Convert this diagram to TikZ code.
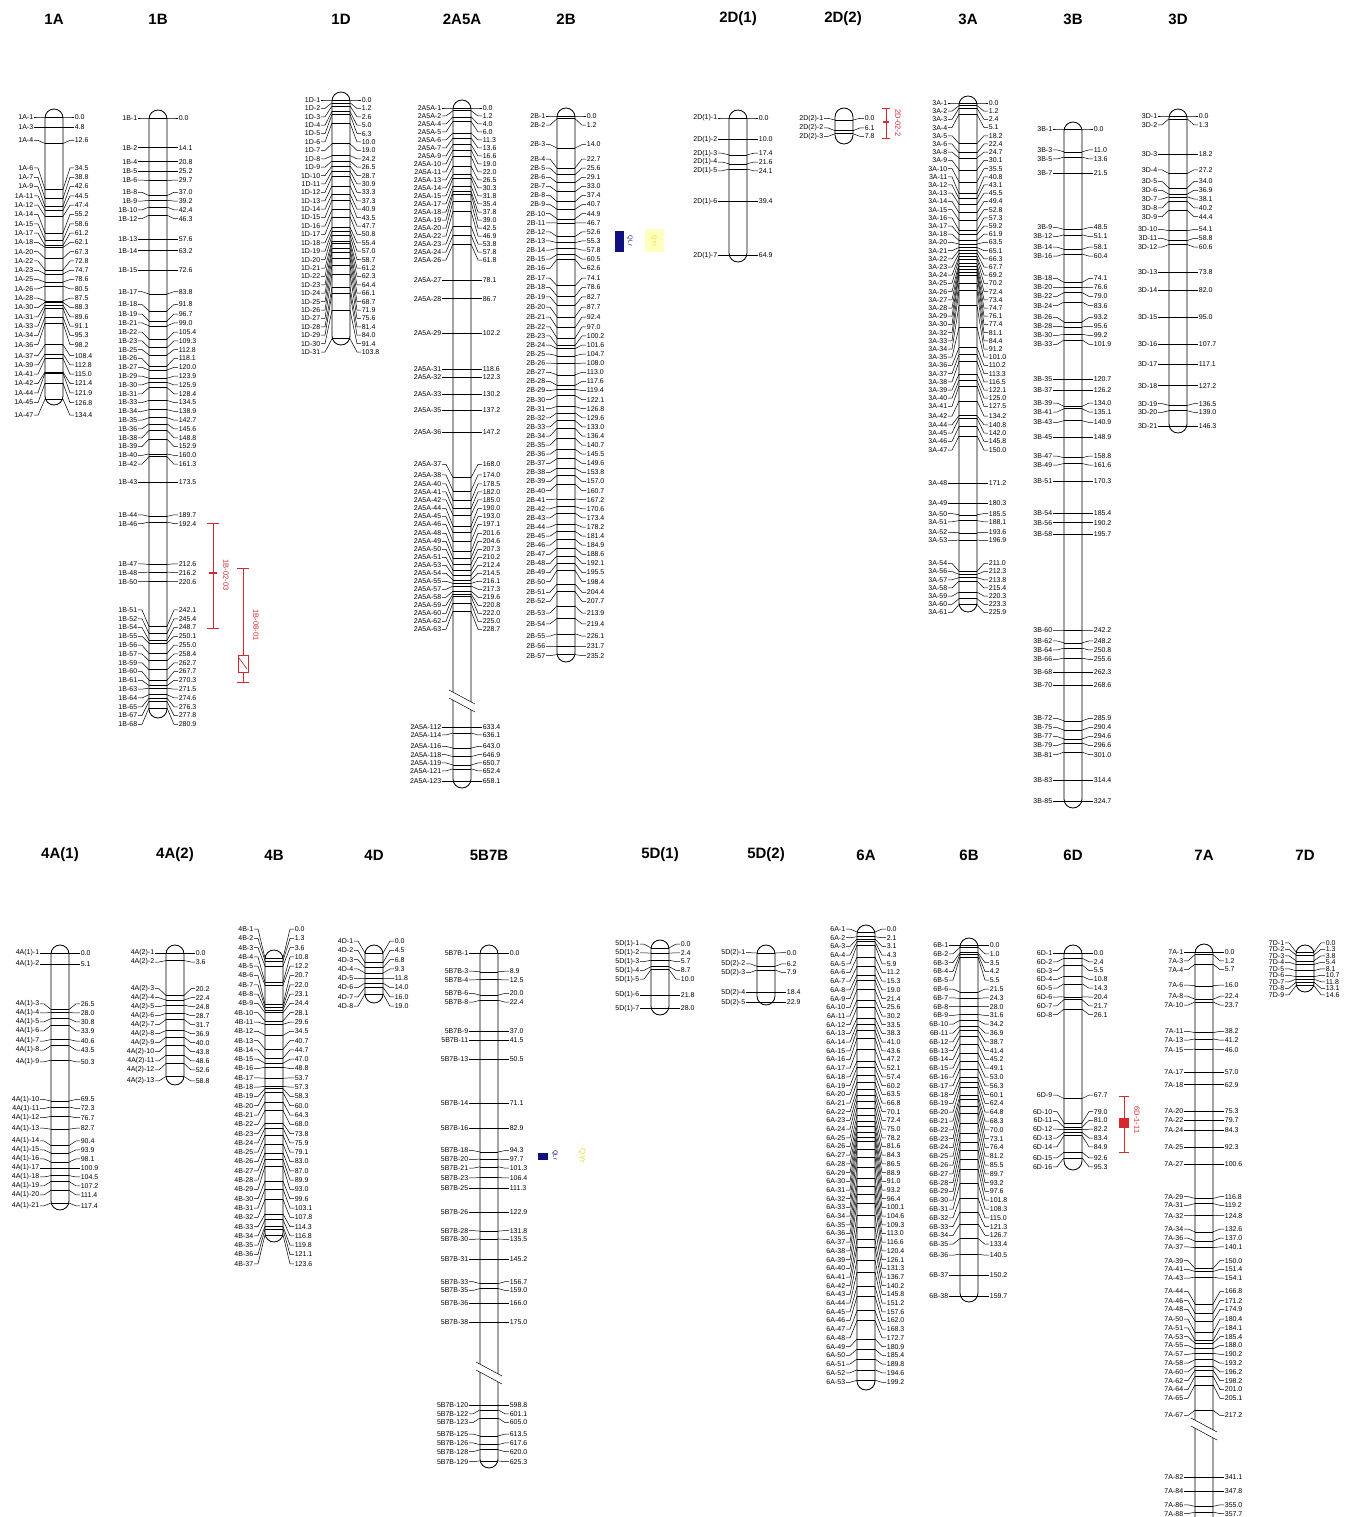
\documentclass[tikz,border=0pt]{standalone}
\usepackage{fontspec}
\setmainfont{Liberation Sans}
\usepackage{tikz}
\definecolor{qtlred}{RGB}{214,40,48}
\definecolor{qtlnavy}{RGB}{16,16,128}
\definecolor{qtlyel}{RGB}{230,220,60}
\definecolor{paleyel}{RGB}{255,255,190}
\tikzset{
  chr/.style={draw, line width=0.85pt, rounded corners=9pt},
  mk/.style={line width=0.5pt},
  lbl/.style={font=\fontsize{7}{8}\selectfont, inner sep=0.6pt},
  ttl/.style={font=\fontsize{15}{17}\selectfont\bfseries},
  qtl/.style={draw=qtlred, line width=0.7pt},
  qtltxt/.style={font=\fontsize{7.5}{8}\selectfont, text=qtlred, rotate=-90},
  genetxt/.style={font=\fontsize{6}{7}\selectfont, rotate=-90, inner sep=0.5pt},
}
\newcommand{\lgap}{8.8}
\newcommand{\ltop}{0}
% #1 prefix, #2 id, #3 x, #4 y of 0 cM, #5 px per cM, #6 first no., #7 last no., #8 cM list
\newcommand{\markers}[8]{%
  \foreach \v [count=\i] in {#8} {
    \pgfmathsetmacro\mkP{#4+#5*\v}
    \expandafter\xdef\csname mkp\i\endcsname{\mkP}
    \expandafter\xdef\csname mkv\i\endcsname{\v}
    \xdef\mkN{\i}
  }
  \foreach \i [remember=\mkF as \mkFp (initially -9000)] in {1,...,\mkN} {
    \pgfmathsetmacro\mkF{max(\csname mkp\i\endcsname,\mkFp+\lgap)}
    \expandafter\xdef\csname mkf\i\endcsname{\mkF}
  }
  \foreach \i [remember=\mkU as \mkUp (initially 9000)] in {\mkN,...,1} {
    \pgfmathsetmacro\mkU{min(\csname mkp\i\endcsname,\mkUp-\lgap)}
    \expandafter\xdef\csname mku\i\endcsname{\mkU}
  }
  \pgfmathsetmacro\mkLo{\csname mkp1\endcsname-\ltop}
  \foreach \i [remember=\mkG as \mkGp (initially -9000)] in {1,...,\mkN} {
    \pgfmathsetmacro\py{\csname mkp\i\endcsname}
    \pgfmathsetmacro\mkG{max((\csname mkf\i\endcsname+\csname mku\i\endcsname)/2,\mkGp+\lgap,\mkLo)}
    \pgfmathtruncatemacro\lab{#6+round((\i-1)*(#7-#6)/max(\mkN-1,1))}
    \draw[mk] (#3-9,\py) -- (#3+9,\py);
    \draw[mk] (#3-9,\py) -- (#3-16,\mkG) -- (#3-20,\mkG) node[lbl,anchor=east] (#2l\i) {#1-\lab};
    \draw[mk] (#3+9,\py) -- (#3+16,\mkG) -- (#3+20,\mkG) node[lbl,anchor=west] (#2r\i) {\csname mkv\i\endcsname};
  }
}
\begin{document}
\begin{tikzpicture}[x=1pt,y=-1pt]
  \fill[white] (0,0) rectangle (1357,1517);
  \useasboundingbox (0,0) rectangle (1357,1517);
  % Titles
  \foreach \x/\t [count=\k] in {54/1A,158/1B,341/1D,462/2A5A,566/2B,738/2D(1),843/2D(2),968/3A,1073/3B,1178/3D}
    \node[ttl] (tt\k) at (\x,19) {\t};
  \foreach \x/\t [count=\k] in {60/4A(1),175/4A(2),274/4B,374/4D,489/5B7B,660/5D(1),766/5D(2),866/6A,969/6B,1073/6D,1204/7A,1305/7D}
    \node[ttl] (tb\k) at (\x,855) {\t};

  % 1A
  \def\lgap{9.3}
  \draw[chr] (45,109) rectangle (63,405);
  \markers{1A}{a}{54}{117}{2.1}{1}{47}{0.0,4.8,12.6,34.5,38.8,42.6,44.5,47.4,55.2,58.6,61.2,62.1,67.3,72.8,74.7,78.6,80.5,87.5,88.3,89.6,91.1,95.3,98.2,108.4,112.8,115.0,121.4,121.9,126.8,134.4}
  % 1B
  \def\lgap{8.8}
  \draw[chr] (149,110) rectangle (167,718);
  \markers{1B}{b}{158}{118}{2.1}{1}{68}{0.0,14.1,20.8,25.2,29.7,37.0,39.2,42.4,46.3,57.6,63.2,72.6,83.8,91.8,96.7,99.0,105.4,109.3,112.8,118.1,120.0,123.9,125.9,128.4,134.5,138.9,142.7,145.6,148.8,152.9,160.0,161.3,173.5,189.7,192.4,212.6,216.2,220.6,242.1,245.4,248.7,250.1,255.0,258.4,262.7,267.7,270.3,271.5,274.6,276.3,277.8,280.9}
  % 1D
  \def\lgap{8.4}
  \draw[chr] (332,92) rectangle (350,345);
  \markers{1D}{c}{341}{100}{2.3}{1}{31}{0.0,1.2,2.6,5.0,6.3,10.0,19.0,24.2,26.5,28.7,30.9,33.3,37.3,40.9,43.5,47.7,50.8,55.4,57.0,58.7,61.2,62.3,64.4,66.1,68.7,71.9,75.6,81.4,84.0,91.4,103.8}
  % 2A5A
  \def\lgap{8.0}
  \draw[chr] (453,100) rectangle (471,788);
  \markers{2A5A}{d}{462}{108}{2.2}{1}{63}{0.0,1.2,4.0,6.0,11.3,13.6,16.6,19.0,22.0,26.5,30.3,31.8,35.4,37.8,39.0,42.5,46.9,53.8,57.8,61.8,78.1,86.7,102.2,118.6,122.3,130.2,137.2,147.2,168.0,174.0,178.5,182.0,185.0,190.0,193.0,197.1,201.6,204.6,207.3,210.2,212.4,214.5,216.1,217.3,219.6,220.8,222.0,225.0,228.7}
  \markers{2A5A}{e}{462}{-666.5}{2.2}{112}{123}{633.4,636.1,643.0,646.9,650.7,652.4,658.1}
  \fill[white] (449,690) -- (475,704) -- (475,712) -- (449,698) -- cycle;
  \draw[mk] (449,690) -- (475,704) (449,698) -- (475,712);
  % 2B
  \def\lgap{9.1}
  \draw[chr] (557,108) rectangle (575,662);
  \markers{2B}{f}{566}{116}{2.29}{1}{57}{0.0,1.2,14.0,22.7,25.6,29.1,33.0,37.4,40.7,44.9,46.7,52.6,55.3,57.8,60.5,62.6,74.1,78.6,82.7,87.7,92.4,97.0,100.2,101.6,104.7,108.0,113.0,117.6,119.4,122.1,126.8,129.6,133.0,136.4,140.7,145.5,149.6,153.8,157.0,160.7,167.2,170.6,173.4,178.2,181.4,184.9,188.6,192.1,195.5,198.4,204.4,207.7,213.9,219.4,226.1,231.7,235.2}
  % 2D(1)
  \def\lgap{8.8}
  \draw[chr] (729,110) rectangle (747,262);
  \markers{2D(1)}{g}{738}{118}{2.12}{1}{7}{0.0,10.0,17.4,21.6,24.1,39.4,64.9}
  % 2D(2)
  \def\lgap{8.5}\def\ltop{4}
  \draw[chr] (835,108) rectangle (853,144);
  \markers{2D(2)}{h}{844}{120}{1.75}{1}{3}{0.0,6.1,7.8}
  % 3A
  \def\lgap{8.2}\def\ltop{0}
  \draw[chr] (959,96) rectangle (977,612);
  \markers{3A}{i}{968}{103}{2.22}{1}{61}{0.0,1.2,2.4,5.1,18.2,22.4,24.7,30.1,35.5,40.8,43.1,45.5,49.4,52.8,57.3,59.2,61.9,63.5,65.1,66.3,67.7,69.2,70.2,72.4,73.4,74.7,76.1,77.4,81.1,84.4,91.2,101.0,110.2,113.3,116.5,122.1,125.0,127.5,134.2,140.8,142.0,145.8,150.0,171.2,180.3,185.5,188.1,193.6,196.9,211.0,212.3,213.8,215.4,220.3,223.3,225.9}
  % 3B
  \def\lgap{9.0}
  \draw[chr] (1064,122) rectangle (1082,808);
  \markers{3B}{j}{1073}{129}{2.07}{1}{85}{0.0,11.0,13.6,21.5,48.5,51.1,58.1,60.4,74.1,76.6,79.0,83.6,93.2,95.6,99.2,101.9,120.7,126.2,134.0,135.1,140.9,148.9,158.8,161.6,170.3,185.4,190.2,195.7,242.2,248.2,250.8,255.6,262.3,268.6,285.9,290.4,294.6,296.6,301.0,314.4,324.7}
  % 3D
  \def\lgap{8.8}
  \draw[chr] (1169,109) rectangle (1187,433);
  \markers{3D}{k}{1178}{116}{2.12}{1}{21}{0.0,1.3,18.2,27.2,34.0,36.9,38.1,40.2,44.4,54.1,58.8,60.6,73.8,82.0,95.0,107.7,117.1,127.2,136.5,139.0,146.3}

  % 4A(1)
  \def\lgap{9.0}
  \draw[chr] (51,945) rectangle (69,1210);
  \markers{4A(1)}{m}{60}{953}{2.13}{1}{21}{0.0,5.1,26.5,28.0,30.8,33.9,40.6,43.5,50.3,69.5,72.3,76.7,82.7,90.4,93.9,98.1,100.9,104.5,107.2,111.4,117.4}
  % 4A(2)
  \draw[chr] (166,945) rectangle (184,1085);
  \markers{4A(2)}{n}{175}{953}{2.1}{1}{13}{0.0,3.6,20.2,22.4,24.8,28.7,31.7,36.9,40.0,43.8,48.6,52.6,58.8}
  % 4B
  \def\lgap{9.3}\def\ltop{45}
  \draw[chr] (265,950) rectangle (283,1242);
  \markers{4B}{o}{274}{958}{2.24}{1}{37}{0.0,1.3,3.6,10.8,12.2,20.7,22.0,23.1,24.4,28.1,29.6,34.5,40.7,44.7,47.0,48.8,53.7,57.3,58.3,60.0,64.3,68.0,73.8,75.9,79.1,83.0,87.0,89.9,93.0,99.6,103.1,107.8,114.3,116.8,119.8,121.1,123.6}
  % 4D
  \def\ltop{12}
  \draw[chr] (365,945) rectangle (383,1003);
  \markers{4D}{p}{374}{953}{2.15}{1}{8}{0.0,4.5,6.8,9.3,11.8,14.0,16.0,19.0}
  % 5B7B
  \def\lgap{8.8}\def\ltop{0}
  \draw[chr] (480,945) rectangle (498,1468);
  \markers{5B7B}{q}{489}{953}{2.11}{1}{38}{0.0,8.9,12.5,20.0,22.4,37.0,41.5,50.5,71.1,82.9,94.3,97.7,101.3,106.4,111.3,122.9,131.8,135.5,145.2,156.7,159.0,166.0,175.0}
  \markers{5B7B}{r}{489}{141.5}{2.11}{120}{129}{598.8,601.1,605.0,613.5,617.6,620.0,625.3}
  \fill[white] (476,1362) -- (502,1376) -- (502,1384) -- (476,1370) -- cycle;
  \draw[mk] (476,1362) -- (502,1376) (476,1370) -- (502,1384);
  % 5D(1)
  \def\ltop{4}
  \draw[chr] (651,940) rectangle (669,1015);
  \markers{5D(1)}{s}{660}{948}{2.15}{1}{7}{0.0,2.4,5.7,8.7,10.0,21.8,28.0}
  % 5D(2)
  \draw[chr] (757,945) rectangle (775,1005);
  \markers{5D(2)}{t}{766}{953}{2.15}{1}{5}{0.0,6.2,7.9,18.4,22.9}
  % 6A
  \def\lgap{8.7}\def\ltop{3}
  \draw[chr] (857,925) rectangle (875,1390);
  \markers{6A}{u}{866}{932}{2.25}{1}{53}{0.0,2.1,3.1,4.3,5.9,11.2,15.3,19.0,21.4,25.6,30.2,33.5,38.3,41.0,43.6,47.2,52.1,57.4,60.2,63.5,66.8,70.1,72.4,75.0,78.2,81.6,84.3,86.5,88.9,91.0,93.2,96.4,100.1,104.6,109.3,113.0,116.6,120.4,126.1,131.3,136.7,140.2,145.8,151.2,157.6,162.0,168.3,172.7,180.9,185.4,189.8,194.6,199.2}
  % 6B
  \def\lgap{8.8}\def\ltop{0}
  \draw[chr] (960,938) rectangle (978,1302);
  \markers{6B}{v}{969}{945}{2.2}{1}{38}{0.0,1.0,3.5,4.2,5.5,21.5,24.3,28.0,31.6,34.2,36.9,38.7,41.4,45.2,49.1,53.0,56.3,60.1,62.4,64.8,68.3,70.0,73.1,76.4,81.2,85.5,89.7,93.2,97.6,101.8,108.3,115.0,121.3,126.7,133.4,140.5,150.2,159.7}
  % 6D
  \draw[chr] (1064,945) rectangle (1082,1170);
  \markers{6D}{w}{1073}{953}{2.15}{1}{16}{0.0,2.4,5.5,10.8,14.3,20.4,21.7,26.1,67.7,79.0,81.0,82.2,83.4,84.9,92.6,95.3}
  % 7A
  \draw[chr] (1195,944) rectangle (1213,1528);
  \markers{7A}{x}{1204}{952}{2.11}{1}{67}{0.0,1.2,5.7,16.0,22.4,23.7,38.2,41.2,46.0,57.0,62.9,75.3,79.7,84.3,92.3,100.6,116.8,119.2,124.8,132.6,137.0,140.1,150.0,151.4,154.1,166.8,171.2,174.9,180.4,184.1,185.4,188.0,190.2,193.2,196.2,198.2,201.0,205.1,217.2}
  \markers{7A}{y}{1204}{757.3}{2.11}{82}{88}{341.1,347.8,355.0,357.7}
  \fill[white] (1191,1418) -- (1217,1432) -- (1217,1440) -- (1191,1426) -- cycle;
  \draw[mk] (1191,1418) -- (1217,1432) (1191,1426) -- (1217,1440);
  % 7D
  \def\lgap{6.5}\def\ltop{22}
  \draw[chr] (1296,945) rectangle (1314,992);
  \markers{7D}{z}{1305}{952}{2.3}{1}{9}{0.0,1.3,3.8,5.4,8.1,10.7,11.8,13.1,14.6}

  % QTL bars
  \draw[qtl] (207,523) -- (219,523) (213,523) -- (213,628) (207,628) -- (219,628);
  \draw[qtl, line width=1.8pt] (209,573) -- (217,573);
  \node[qtltxt] (q1) at (226,575) {1B-02-03};
  \draw[qtl] (237,568) -- (249,568) (243,568) -- (243,682) (237,682) -- (249,682);
  \draw[qtl, fill=white] (238,655) rectangle (248,672);
  \draw[qtl] (239,658) -- (247,669);
  \node[qtltxt] (q2) at (256,625) {1B-08-01};
  \draw[qtl] (882,108) -- (890,108) (886,108) -- (886,138) (882,138) -- (890,138);
  \draw[qtl, line width=1.8pt] (883,122) -- (889,122);
  \node[qtltxt] (q3) at (898,123) {2D-02-2};
  \draw[qtl] (1119,1096) -- (1129,1096) (1124,1096) -- (1124,1152) (1119,1152) -- (1129,1152);
  \fill[qtlred] (1119,1118) rectangle (1129,1128);
  \node[qtltxt] (q4) at (1137,1120) {6D-1-11};
  % Gene blocks
  \fill[qtlnavy] (615,231) rectangle (624,252);
  \node[genetxt, text=qtlnavy] (g1) at (630,241) {QLr};
  \fill[paleyel] (645,229) rectangle (664,252);
  \node[genetxt, text=qtlyel] (g2) at (654,241) {QYr};
  \fill[qtlnavy] (538,1153) rectangle (548,1160);
  \node[genetxt, text=qtlnavy] (g3) at (555,1155) {QLr};
  \node[genetxt, text=qtlyel, font=\fontsize{8}{9}\selectfont] (g4) at (582,1156) {QYr};
\end{tikzpicture}
\end{document}
